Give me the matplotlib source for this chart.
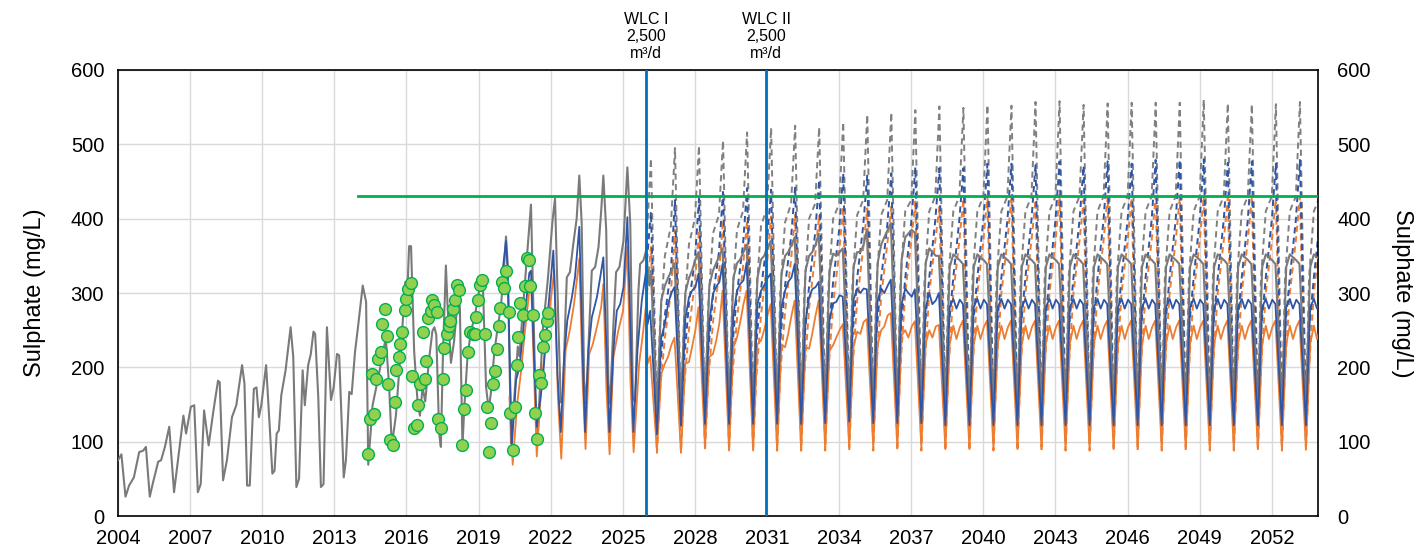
import numpy as np
import matplotlib
matplotlib.use('Agg')
import matplotlib.pyplot as plt
from matplotlib import transforms

plt.rcParams['font.family'] = ['Liberation Sans', 'DejaVu Sans']

# ---------------- data ----------------
# historic grey model line (year, mg/L)
grey_hist_t = [2004.00, 2004.14, 2004.31, 2004.46, 2004.66, 2004.88, 2005.05, 2005.16, 2005.32, 2005.44,
               2005.67, 2005.79, 2005.95, 2006.13, 2006.33, 2006.51, 2006.72, 2006.83, 2007.03, 2007.17,
               2007.32, 2007.44, 2007.58, 2007.77, 2007.97, 2008.16, 2008.23, 2008.37, 2008.53, 2008.74,
               2008.92, 2009.16, 2009.26, 2009.37, 2009.48, 2009.65, 2009.76, 2009.86, 2009.96, 2010.16,
               2010.32, 2010.42, 2010.51, 2010.60, 2010.69, 2010.79, 2010.97, 2011.18, 2011.29, 2011.42,
               2011.53, 2011.68, 2011.77, 2011.91, 2012.02, 2012.13, 2012.20, 2012.33, 2012.44, 2012.55,
               2012.69, 2012.86, 2012.97, 2013.11, 2013.20, 2013.39, 2013.48, 2013.62, 2013.72, 2013.86,
               2014.00, 2014.18, 2014.32, 2014.41, 2014.59, 2014.86, 2015.14, 2015.28, 2015.39, 2015.56,
               2015.83, 2015.95, 2016.04, 2016.11, 2016.19, 2016.32, 2016.46, 2016.56, 2016.67, 2016.78,
               2016.94, 2017.08, 2017.16, 2017.24, 2017.36, 2017.43, 2017.52, 2017.64, 2017.71, 2017.85,
               2017.98, 2018.12, 2018.22, 2018.33, 2018.40, 2018.54, 2018.68, 2018.85, 2019.10, 2019.17,
               2019.31, 2019.42, 2019.51, 2019.65, 2019.80, 2019.93, 2020.07, 2020.14, 2020.21, 2020.35,
               2020.49, 2020.63, 2020.70, 2020.83, 2020.97, 2021.11, 2021.18, 2021.30, 2021.39, 2021.46,
               2021.67, 2021.88, 2022.08, 2022.18, 2022.32, 2022.42, 2022.50, 2022.60, 2022.67, 2022.80,
               2022.94, 2023.08, 2023.19, 2023.29, 2023.39, 2023.47, 2023.61, 2023.71, 2023.85, 2023.99,
               2024.10, 2024.19, 2024.31, 2024.40, 2024.47, 2024.61, 2024.72, 2024.86, 2025.03, 2025.19,
               2025.31, 2025.42, 2025.51, 2025.65, 2025.72, 2025.86, 2025.97, 2026.10, 2026.17]
grey_hist_v = [75, 83, 26, 41, 52, 86, 88, 93, 26, 43,
               73, 75, 93, 120, 32, 79, 135, 111, 147, 149,
               32, 43, 142, 95, 142, 182, 180, 48, 75, 133,
               149, 203, 178, 41, 41, 171, 173, 133, 149, 203,
               115, 57, 61, 111, 115, 162, 196, 254, 214, 39,
               50, 196, 149, 203, 218, 248, 245, 160, 39, 43,
               254, 156, 173, 218, 216, 52, 75, 167, 164, 221,
               259, 310, 288, 69, 149, 192, 240, 173, 95, 135,
               254, 315, 306, 363, 363, 221, 154, 135, 173, 154,
               211, 249, 254, 244, 111, 93, 221, 337, 282, 206,
               235, 287, 282, 93, 143, 215, 248, 270, 318, 320,
               174, 143, 165, 219, 255, 282, 340, 376, 340, 98,
               161, 228, 215, 273, 331, 390, 419, 250, 129, 111,
               250, 318, 399, 427, 258, 153, 153, 258, 321, 328,
               366, 400, 458, 393, 182, 151, 258, 330, 335, 362,
               410, 458, 384, 178, 151, 258, 328, 335, 371, 469,
               393, 160, 153, 303, 339, 344, 357, 310, 330]

blue_hist_t = [2020.00, 2020.14, 2020.21, 2020.38, 2020.56, 2020.70, 2020.90, 2021.11, 2021.18, 2021.30,
               2021.42, 2021.67, 2021.90, 2022.11, 2022.28, 2022.42, 2022.56, 2022.69, 2022.88, 2023.01,
               2023.19, 2023.33, 2023.43, 2023.57, 2023.71, 2023.92, 2024.06, 2024.19, 2024.33, 2024.44,
               2024.61, 2024.75, 2024.89, 2025.03, 2025.19, 2025.33, 2025.44, 2025.61, 2025.79, 2025.97,
               2026.03, 2026.14]
blue_hist_v = [330, 370, 330, 93, 183, 200, 264, 327, 330, 220,
               120, 183, 280, 357, 191, 113, 214, 263, 294, 321,
               389, 214, 113, 223, 267, 294, 321, 348, 214, 113,
               223, 276, 285, 308, 402, 236, 113, 223, 290, 330,
               258, 276]

orange_hist_t = [2020.28, 2020.42, 2020.60, 2020.75, 2020.90, 2021.10, 2021.18, 2021.30, 2021.42, 2021.60,
                 2021.80, 2022.00, 2022.15, 2022.30, 2022.44, 2022.62, 2022.79, 2022.97, 2023.19, 2023.33,
                 2023.45, 2023.60, 2023.75, 2023.95, 2024.10, 2024.19, 2024.32, 2024.45, 2024.61, 2024.81,
                 2025.01, 2025.19, 2025.32, 2025.45, 2025.68, 2025.85, 2025.97, 2026.03, 2026.14]
orange_hist_v = [160, 69, 150, 190, 240, 300, 318, 200, 80, 170,
                 240, 290, 331, 160, 77, 223, 249, 285, 346, 180,
                 90, 218, 231, 258, 281, 312, 170, 83, 214, 249,
                 276, 362, 180, 86, 205, 249, 285, 205, 215]

# scenario lines start at WLC I and reach the 2026 peak
wlc_start_t = [2025.97, 2026.17]
grey_dash_start = [357, 481]
blue_dash_start = [330, 409]
orange_dash_start = [285, 362]

# yearly cycles 2026..2053: trough mid-year, rise, peak early next year
cycle_years = list(range(2026, 2054))
dash_offsets = [0.42, 0.55, 0.75, 1.00, 1.17]
solid_offsets = [0.42, 0.60, 0.75, 0.88, 1.02, 1.15]

grey_dash_rows = [
    [130, 260, 350, 390, 495], [135, 270, 365, 400, 498], [135, 280, 380, 405, 505],
    [135, 290, 385, 410, 516], [140, 295, 390, 415, 522], [140, 300, 395, 420, 525],
    [140, 300, 400, 420, 523], [140, 305, 400, 420, 530], [140, 310, 405, 425, 540],
    [140, 310, 405, 425, 543], [140, 315, 410, 425, 546], [140, 315, 410, 430, 551],
    [140, 320, 410, 430, 549], [140, 320, 410, 430, 553], [140, 320, 410, 430, 552],
    [140, 320, 410, 430, 557], [140, 320, 410, 430, 558], [140, 320, 410, 430, 553],
    [140, 320, 410, 430, 555], [140, 320, 410, 430, 556], [140, 320, 410, 430, 556],
    [140, 320, 410, 430, 556], [140, 320, 410, 430, 560], [140, 320, 410, 430, 555],
    [140, 320, 410, 430, 554], [140, 320, 410, 430, 554], [140, 320, 410, 430, 557],
    [140, 320, 410, 430, 555]]

blue_dash_rows = [
    [118, 200, 270, 330, 425], [120, 210, 285, 345, 427], [122, 220, 295, 355, 436],
    [122, 225, 300, 365, 441], [122, 230, 305, 370, 439], [122, 235, 310, 375, 443],
    [122, 235, 310, 380, 452], [124, 240, 315, 385, 461], [124, 240, 320, 390, 459],
    [124, 245, 320, 390, 461], [124, 245, 320, 395, 469], [124, 250, 321, 398, 468],
    [124, 250, 321, 398, 468], [124, 250, 321, 398, 474], [124, 250, 321, 398, 474],
    [124, 250, 321, 398, 472], [124, 250, 321, 398, 477], [124, 250, 321, 398, 471],
    [124, 250, 321, 398, 477], [124, 250, 321, 398, 474], [124, 250, 321, 398, 479],
    [124, 250, 321, 398, 479], [124, 250, 321, 398, 480], [124, 250, 321, 398, 475],
    [124, 250, 321, 398, 477], [124, 250, 321, 398, 474], [124, 250, 321, 398, 479],
    [124, 250, 321, 398, 475]]

orange_dash_rows = [
    [85, 170, 240, 300, 385], [86, 175, 250, 315, 385], [88, 180, 260, 325, 398],
    [88, 185, 265, 335, 398], [88, 185, 270, 340, 403], [88, 190, 275, 345, 405],
    [88, 190, 280, 350, 405], [88, 195, 285, 355, 416], [88, 195, 290, 360, 414],
    [88, 200, 295, 365, 416], [88, 200, 300, 370, 423], [88, 200, 300, 370, 416],
    [88, 200, 300, 370, 427], [88, 200, 300, 370, 430], [88, 200, 300, 370, 430],
    [88, 200, 300, 370, 425], [88, 200, 300, 370, 432], [88, 200, 300, 370, 425],
    [88, 200, 300, 370, 430], [88, 200, 300, 370, 428], [88, 200, 300, 370, 430],
    [88, 200, 300, 370, 428], [88, 200, 300, 370, 430], [88, 200, 300, 370, 428],
    [88, 200, 300, 370, 430], [88, 200, 300, 370, 428], [88, 200, 300, 370, 430],
    [88, 200, 300, 370, 430]]

grey_solid_rows = [
    [142, 290, 310, 320, 330, 340], [150, 300, 320, 330, 345, 355], [150, 310, 330, 340, 350, 360],
    [150, 320, 340, 345, 355, 365], [150, 320, 345, 350, 360, 370], [150, 325, 350, 355, 365, 375],
    [150, 330, 350, 355, 365, 380], [150, 330, 353, 350, 355, 360], [150, 335, 355, 355, 365, 385],
    [150, 340, 365, 375, 385, 394], [150, 345, 375, 380, 385, 381], [150, 340, 360, 355, 350, 350],
    [150, 335, 352, 348, 344, 339], [150, 335, 352, 348, 344, 339], [150, 335, 352, 348, 344, 339],
    [150, 335, 352, 348, 344, 339], [150, 335, 352, 348, 344, 339], [150, 335, 352, 348, 344, 339],
    [150, 335, 352, 348, 344, 339], [150, 335, 352, 348, 344, 339], [150, 335, 352, 348, 344, 339],
    [150, 335, 352, 348, 344, 339], [150, 335, 352, 348, 344, 339], [150, 335, 352, 348, 344, 339],
    [150, 335, 352, 348, 344, 339], [150, 335, 352, 348, 344, 339], [150, 335, 352, 348, 344, 339],
    [150, 335, 352, 348, 344, 339]]

blue_solid_rows = [
    [110, 240, 258, 285, 300, 308], [122, 265, 294, 303, 308, 326], [124, 260, 299, 308, 315, 339],
    [124, 270, 303, 312, 317, 341], [124, 285, 303, 310, 320, 326], [124, 281, 303, 315, 321, 339],
    [124, 262, 294, 305, 308, 315], [125, 264, 286, 288, 297, 295], [127, 291, 306, 300, 306, 305],
    [125, 290, 306, 300, 310, 318], [125, 285, 306, 300, 295, 305], [125, 280, 300, 285, 290, 300],
    [122, 281, 292, 279, 291, 285], [122, 281, 292, 279, 291, 285], [122, 281, 292, 279, 291, 285],
    [122, 281, 292, 279, 291, 285], [122, 281, 292, 279, 291, 285], [122, 281, 292, 279, 291, 285],
    [122, 281, 292, 279, 291, 285], [122, 281, 292, 279, 291, 285], [122, 281, 292, 279, 291, 285],
    [122, 281, 292, 279, 291, 285], [122, 281, 292, 279, 291, 285], [122, 281, 292, 279, 291, 285],
    [122, 281, 292, 279, 291, 285], [122, 281, 292, 279, 291, 285], [122, 281, 292, 279, 291, 285],
    [122, 281, 292, 279, 291, 285]]

orange_solid_rows = [
    [88, 191, 205, 214, 230, 240], [85, 205, 207, 227, 250, 281], [92, 214, 218, 235, 260, 303],
    [88, 227, 240, 260, 285, 303], [88, 231, 236, 250, 270, 285], [88, 231, 227, 245, 270, 290],
    [88, 227, 225, 245, 270, 290], [90, 222, 230, 240, 250, 258], [92, 228, 248, 245, 261, 265],
    [92, 230, 250, 255, 270, 273], [92, 243, 250, 240, 255, 262], [92, 232, 250, 240, 255, 257],
    [90, 232, 256, 238, 254, 263], [90, 232, 256, 238, 254, 263], [90, 232, 256, 238, 254, 263],
    [90, 232, 256, 238, 254, 263], [90, 232, 256, 238, 254, 263], [90, 232, 256, 238, 254, 263],
    [90, 232, 256, 238, 254, 263], [90, 232, 256, 238, 254, 263], [90, 232, 256, 238, 254, 263],
    [90, 232, 256, 238, 254, 263], [90, 232, 256, 238, 254, 263], [90, 232, 256, 238, 254, 263],
    [90, 232, 256, 238, 254, 263], [90, 232, 256, 238, 254, 263], [90, 232, 256, 238, 254, 263],
    [90, 232, 256, 238, 254, 263]]

# observed samples (green dots)
obs_t = [2014.42, 2014.47, 2014.56, 2014.65, 2014.75, 2014.83, 2014.93, 2015.00, 2015.10, 2015.17,
         2015.25, 2015.32, 2015.42, 2015.51, 2015.58, 2015.67, 2015.75, 2015.83, 2015.92, 2016.00,
         2016.07, 2016.17, 2016.25, 2016.33, 2016.42, 2016.50, 2016.57, 2016.67, 2016.75, 2016.83,
         2016.90, 2017.00, 2017.08, 2017.15, 2017.25, 2017.33, 2017.42, 2017.50, 2017.57, 2017.67,
         2017.75, 2017.83, 2017.92, 2018.01, 2018.10, 2018.17, 2018.33, 2018.40, 2018.49, 2018.57,
         2018.65, 2018.75, 2018.83, 2018.90, 2018.99, 2019.06, 2019.14, 2019.25, 2019.33, 2019.42,
         2019.50, 2019.58, 2019.67, 2019.75, 2019.83, 2019.90, 2019.97, 2020.04, 2020.15, 2020.25,
         2020.31, 2020.42, 2020.50, 2020.58, 2020.65, 2020.74, 2020.83, 2020.92, 2021.00, 2021.08,
         2021.15, 2021.25, 2021.33, 2021.42, 2021.50, 2021.58, 2021.67, 2021.75, 2021.83, 2021.90]
obs_v = [83, 130, 191, 137, 184, 211, 220, 258, 278, 242,
         178, 102, 95, 154, 196, 214, 232, 248, 277, 292,
         306, 313, 189, 118, 123, 149, 177, 248, 184, 209,
         266, 276, 290, 284, 274, 131, 118, 184, 226, 245,
         256, 263, 278, 290, 311, 304, 95, 144, 169, 221,
         248, 245, 245, 268, 291, 311, 318, 245, 147, 86,
         125, 177, 195, 224, 256, 280, 315, 307, 329, 275,
         138, 89, 147, 203, 241, 286, 271, 310, 347, 345,
         310, 271, 138, 104, 190, 179, 227, 244, 262, 273]

threshold = 430
threshold_start = 2014.0
wlc_events = [(2025.97, 'WLC I\n2,500\nm³/d'), (2030.97, 'WLC II\n2,500\nm³/d')]

x_ticks = list(range(2004, 2053, 3))
y_ticks = [0, 100, 200, 300, 400, 500, 600]


def build_cycles(start_t, start_v, rows, offsets):
    t, v = list(start_t), list(start_v)
    for year, row in zip(cycle_years, rows):
        for off, val in zip(offsets, row):
            t.append(year + off)
            v.append(val)
    return t, v


# ---------------- figure ----------------
fig = plt.figure(figsize=(14.17, 5.52), dpi=100)
ax = fig.add_axes([0.0833, 0.0652, 0.8468, 0.808])

grey = '#7a7a7a'
blue = '#2f55a4'
orange = '#ed7d31'
dash = (0, (3.2, 2.2))

# dashed scenarios
t, v = build_cycles(wlc_start_t, grey_dash_start, grey_dash_rows, dash_offsets)
ax.plot(t, v, color='#808080', lw=1.4, ls=dash, zorder=2)
t, v = build_cycles(wlc_start_t, orange_dash_start, orange_dash_rows, dash_offsets)
ax.plot(t, v, color=orange, lw=1.4, ls=dash, zorder=2)
t, v = build_cycles(wlc_start_t, blue_dash_start, blue_dash_rows, dash_offsets)
ax.plot(t, v, color=blue, lw=1.4, ls=dash, zorder=2)

# solid lines
t, v = build_cycles(grey_hist_t, grey_hist_v, grey_solid_rows, solid_offsets)
ax.plot(t, v, color=grey, lw=1.5, zorder=3)
t, v = build_cycles(orange_hist_t, orange_hist_v, orange_solid_rows, solid_offsets)
ax.plot(t, v, color=orange, lw=1.3, zorder=3)
t, v = build_cycles(blue_hist_t, blue_hist_v, blue_solid_rows, solid_offsets)
ax.plot(t, v, color=blue, lw=1.3, zorder=3)

# observations
ax.plot(obs_t, obs_v, ls='none', marker='o', ms=8.5, mfc='#92d050', mec='#00b050', mew=1.0, zorder=4)

# threshold and WLC markers
ax.plot([threshold_start, 2053.92], [threshold, threshold], color='#00b050', lw=2.0, zorder=5)
trans = transforms.blended_transform_factory(ax.transData, ax.transAxes)
for x, label in wlc_events:
    ax.axvline(x, color='#0070c0', lw=2.0, zorder=6)
    ax.text(x, 1.075, label, transform=trans, ha='center', va='center',
            fontsize=11.5, linespacing=1.2, color='#000000')

ax.set_xlim(2004, 2053.92)
ax.set_ylim(0, 600)
ax.set_xticks(x_ticks)
ax.set_xticklabels([str(x) for x in x_ticks])
ax.set_yticks(y_ticks)
ax.grid(True, color='#d9d9d9', lw=1.0)
ax.set_axisbelow(True)
ax.tick_params(axis='x', length=0, labelsize=14.5, pad=9.5)
ax.tick_params(axis='y', length=0, labelsize=14.5, pad=10)
ax.set_ylabel('Sulphate (mg/L)', fontsize=17, labelpad=18)
for s in ax.spines.values():
    s.set_color('#000000')
    s.set_linewidth(1.2)

ax2 = ax.twinx()
ax2.set_ylim(0, 600)
ax2.set_yticks(y_ticks)
ax2.tick_params(length=0, labelsize=14.5, pad=14)
ax2.set_ylabel('Sulphate (mg/L)', fontsize=17, rotation=270, labelpad=30)
for s in ax2.spines.values():
    s.set_visible(False)

fig.savefig('out.png', dpi=100)
